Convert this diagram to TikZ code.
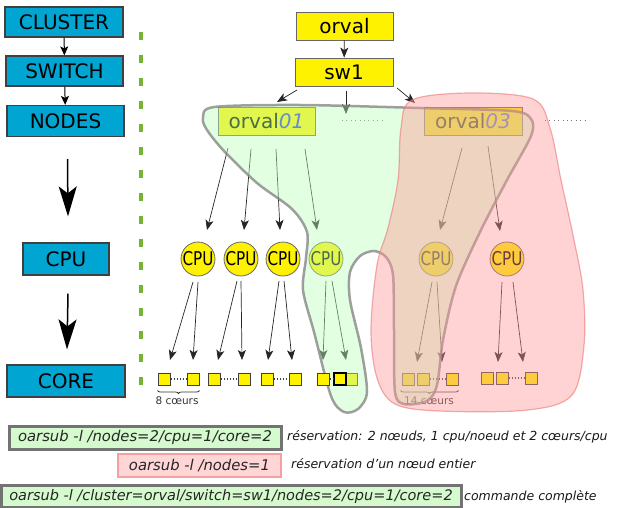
\documentclass[tikz,border=0pt]{standalone}
\usepackage{fontspec}
\usepackage{graphicx}
\setmainfont{DejaVu Sans}
\usetikzlibrary{arrows.meta,calc,decorations.pathreplacing}
\definecolor{cyanbox}{RGB}{0,165,210}
\definecolor{dashgreen}{RGB}{118,178,52}
\definecolor{blobgreen}{RGB}{185,255,185}
\definecolor{blobred}{RGB}{255,150,150}
\definecolor{redline}{RGB}{235,120,120}
\definecolor{numblue}{RGB}{40,60,225}
\definecolor{cmdgreen}{RGB}{212,250,205}
\definecolor{cmdred}{RGB}{255,213,213}
\definecolor{cmdredline}{RGB}{242,160,160}
\begin{document}
\begin{tikzpicture}[x=1pt,y=-1pt,
  lvl/.style={draw=black!75, line width=1.2pt, fill=cyanbox, inner sep=0pt, font=\fontsize{20}{24}\selectfont},
  ybox/.style={draw=black!60, line width=0.8pt, fill=yellow, inner sep=0pt, minimum height=28pt, font=\fontsize{20}{24}\selectfont},
  cpu/.style={circle, draw=black!60, line width=0.8pt, fill=yellow, inner sep=0pt, minimum size=32pt, font=\fontsize{19}{20}\selectfont},
  core/.style={draw=black!75, line width=1pt, fill=yellow, inner sep=0pt, minimum size=12pt},
  arr/.style={draw=black!85, line width=0.7pt, -{Stealth[length=10pt,width=8pt,inset=2.5pt]}},
  bigarr/.style={draw=black, line width=1.5pt, -{Stealth[length=30pt,width=18pt,inset=7pt]}},
  dotline/.style={draw=black!75, line width=1.4pt, dash pattern=on 1.4pt off 1.6pt},
  topdots/.style={draw=black!55, line width=0.8pt, dash pattern=on 0.8pt off 3.6pt},
  brc/.style={draw=black!80, line width=0.8pt, decorate, decoration={brace, mirror, amplitude=3pt}},
  small/.style={font=\fontsize{10.5}{12}\selectfont, text=black!80, inner sep=0pt},
  cmd/.style={draw=black!55, line width=3pt, fill=cmdgreen, inner sep=0pt, font=\fontsize{14.8}{17}\selectfont\itshape, text=black!85},
  cmdr/.style={draw=cmdredline, line width=1.2pt, fill=cmdred, inner sep=0pt, font=\fontsize{14.8}{17}\selectfont\itshape, text=black!85},
  desc/.style={anchor=west, inner sep=0pt, font=\fontsize{12.5}{14}\selectfont\itshape, text=black!90}
]
\useasboundingbox (0,0) rectangle (623,508);

% left legend
\node[lvl, minimum width=118pt, minimum height=30pt] (cluster) at (64,22) {CLUSTER};
\node[lvl, minimum width=117pt, minimum height=30pt] (switch) at (64.5,71) {SWITCH};
\node[lvl, minimum width=117pt, minimum height=31pt] (nodes) at (65.5,121) {NODES};
\node[lvl, minimum width=86pt, minimum height=32pt] (lcpu) at (66,259) {CPU};
\node[lvl, minimum width=118pt, minimum height=32pt] (lcore) at (66,381) {CORE};
\draw[draw=black, line width=1pt, -{Stealth[length=9pt,width=8pt,inset=2pt]}] (cluster) -- (switch);
\draw[draw=black, line width=1pt, -{Stealth[length=9pt,width=8pt,inset=2pt]}] (switch) -- (nodes);
\draw[bigarr] ($(nodes.south)+(2,22)$) -- ($(lcpu.north)+(2,-26)$);
\draw[bigarr] ($(lcpu.south)+(2,18)$) -- ($(lcore.north)+(1,-15)$);

% separator
\draw[dashgreen, line width=4pt, dash pattern=on 8pt off 15pt] (141,32) -- (141,392);

% tree
\node[ybox, minimum width=97pt] (orval) at (344.5,26) {orval};
\node[ybox, minimum width=98pt] (sw1) at (344,72) {sw1};
\node[ybox, minimum width=97pt] (o1) at (266.5,121) {orval\textcolor{numblue}{\itshape 01}};
\node[ybox, minimum width=98pt] (o3) at (473,121) {orval\textcolor{numblue}{\itshape 03}};
\coordinate (dm) at (346,114);
\draw[topdots] (342,120) -- (386,120);
\draw[topdots] (545,120) -- (589,120);

\draw[arr] (orval) -- (sw1);
\draw[arr] ($(sw1)+(-47,18)$) -- ($(o1)+(10.5,-19)$);
\draw[arr] ($(sw1)+(2,19)$) -- (dm);
\draw[arr] ($(sw1)+(53,16)$) -- ($(o3)+(-58,-18)$);

% cpus
\node[cpu] (c1) at (198,259) {\scalebox{0.8}[1]{CPU}};
\node[cpu] (c2) at (241,259) {\scalebox{0.8}[1]{CPU}};
\node[cpu] (c3) at (283,259) {\scalebox{0.8}[1]{CPU}};
\node[cpu] (c4) at (326,259) {\scalebox{0.8}[1]{CPU}};
\node[cpu] (c5) at (436,259) {\scalebox{0.8}[1]{CPU}};
\node[cpu] (c6) at (507,259) {\scalebox{0.8}[1]{CPU}};

\draw[arr] ($(o1)+(-38.5,27)$) -- ($(c1)+(9,-29)$);
\draw[arr] ($(o1)+(-15.5,28)$) -- ($(c2)+(3,-29)$);
\draw[arr] ($(o1)+(9.5,28)$) -- ($(c3)+(-3,-29)$);
\draw[arr] ($(o1)+(38.5,28)$) -- ($(c4)+(-9,-29)$);
\draw[arr] ($(o3)+(-11,27)$) -- ($(c5)+(4,-29)$);
\draw[arr] ($(o3)+(15,25)$) -- ($(c6)+(-7,-28)$);

% cores
\node[core] (s11) at (164,379) {};
\node[core] (s12) at (193,379) {};
\node[core] (s21) at (214,379) {};
\node[core] (s22) at (244,379) {};
\node[core] (s31) at (267,379) {};
\node[core] (s32) at (295,379) {};
\node[core] (s43) at (351,379) {};
\node[core] (s51) at (408,379) {};
\node[core] (s52) at (423,379) {};
\node[core] (s53) at (452,379) {};
\node[core] (s61) at (487,378) {};
\node[core] (s62) at (502,378) {};
\node[core] (s63) at (531,378) {};
\draw[dotline] (s11.east) -- (s12.west);
\draw[dotline] (s21.east) -- (s22.west);
\draw[dotline] (s31.east) -- (s32.west);
\draw[dotline] (s52.east) -- (s53.west);
\draw[dotline] (s62.east) -- (s63.west);

\draw[arr] ($(c1)+(-5,23)$) -- ($(s11)+(6,-19)$);
\draw[arr] ($(c1)+(0,23)$) -- ($(s12)+(0,-19)$);
\draw[arr] ($(c2)+(-4,22)$) -- ($(s21)+(4,-19)$);
\draw[arr] ($(c2)+(0,22)$) -- ($(s22)+(-2,-19)$);
\draw[arr] ($(c3)+(-4,22)$) -- ($(s31)+(1,-19)$);
\draw[arr] ($(c3)+(1,22)$) -- ($(s32)+(-3,-19)$);
\draw[arr] ($(c4)+(0,22)$) -- ($(s43)+(-28,-19)$);
\draw[arr] ($(c4)+(6,22)$) -- ($(s43)+(-5,-19)$);
\draw[arr] ($(c5)+(-4,23)$) -- ($(s52)+(-6,-17)$);
\draw[arr] ($(c5)+(1,23)$) -- ($(s53)+(-10,-17)$);
\draw[arr] ($(c6)+(-5,23)$) -- ($(s62)+(-4,-16)$);
\draw[arr] ($(c6)+(6,23)$) -- ($(s63)+(-8,-16)$);

\draw[brc] ($(s11.south west)+(0,5)$) -- ($(s12.south east)+(0,5)$);
\node[small] (lab8) at (177,401) {8 cœurs};
\draw[brc] ($(s51.south west)+(-1,5)$) -- ($(s53.south east)+(0,5)$);
\node[small] (lab14) at (429,401) {14 cœurs};

% blobs
\path[fill=blobgreen, fill opacity=0.42, draw=black!50, draw opacity=0.75, line width=2.5pt]
  plot[smooth cycle, tension=0.5] coordinates {(203,118) (214,107) (300,105) (420,108) (512,111) (531,119) (531,136) (507,180) (480,232) (456,286) (443,340) (437,385) (427,401) (404,404) (395,392) (394,330) (393,275) (386,257) (374,251) (360,256) (350,272) (350,300) (361,348) (367,392) (358,409) (344,412) (331,396) (314,332) (303,290) (306,258) (307,232) (292,209) (257,183) (224,151) (207,130)};
\path[fill=blobred, fill opacity=0.42, draw=redline, draw opacity=0.6, line width=1.2pt]
  plot[smooth cycle, tension=0.55] coordinates {(412,100) (470,93) (533,99) (550,128) (561,180) (574,240) (583,290) (584,345) (572,395) (528,410) (440,411) (395,404) (377,378) (371,330) (377,265) (388,228) (398,180) (401,128)};

\node[core] (s41) at (323,379) {};
\node[core, line width=1.4pt, draw=black] (s42) at (340,379) {};
\draw[dotline] (s41.east) -- (s42.west);

% commands
\node[cmd, minimum width=272pt, minimum height=23pt] (cmd1) at (145,437.5) {oarsub -l /nodes=2/cpu=1/core=2};
\node[desc] (d1) at (287,437) {réservation: 2 nœuds, 1 cpu/noeud et 2 cœurs/cpu};
\node[cmdr, minimum width=163pt, minimum height=23pt] (cmd2) at (199.5,465.5) {oarsub -l /nodes=1};
\node[desc] (d2) at (291,464) {réservation d'un nœud entier};
\node[cmd, minimum width=460pt, minimum height=22pt, font=\fontsize{14.5}{17}\selectfont\itshape] (cmd3) at (231,496) {oarsub -l /cluster=orval/switch=sw1/nodes=2/cpu=1/core=2};
\node[desc] (d3) at (464,497) {commande complète};
\end{tikzpicture}
\end{document}
